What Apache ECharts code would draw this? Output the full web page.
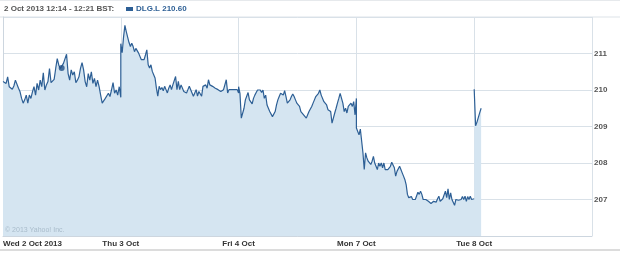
<!DOCTYPE html>
<html>
<head>
<meta charset="utf-8">
<script src="https://cdn.jsdelivr.net/npm/echarts@6/dist/echarts.min.js"></script>
<style>
html,body{margin:0;padding:0;background:#fff;}
#chart{width:620px;height:253px;}
</style>
</head>
<body>
<div id="chart"></div>
<script>
// ---- data ----
const dayLabels = ['Wed 2 Oct 2013', 'Thu 3 Oct', 'Fri 4 Oct', 'Mon 7 Oct', 'Tue 8 Oct'];
const sessionOpen = '08:00';
const sessionClose = '16:30';
const lastQuoteTimes = ['16:30', '16:30', '16:30', '16:30', '08:30'];
const yTicks = [207, 208, 209, 210, 211];

const wedPrices = [210.23,210.27,210.18,210.36,210.09,210.14,210.02,210.11,210.27,210.23,210.05,209.95,209.77,209.64,209.73,209.86,209.64,209.86,209.77,209.95,210.09,209.86,210.18,210.0,210.27,210.09,210.47,210.0,210.14,210.23,210.59,210.2,210.18,210.29,210.59,210.86,210.68,210.59,210.64,210.73,210.68,210.98,210.45,210.27,210.55,210.41,210.5,210.2,210.27,210.36,210.59,210.75,210.55,210.23,210.09,210.45,210.27,210.5,210.18,210.32,210.09,210.27,210.09,209.86,209.64,209.68,209.77,209.73,209.91,209.82,210.0,210.2,209.91,210.0,209.86,210.09,209.8];
const thuPrices = [211.27,211.02,211.45,211.77,211.6,211.45,211.3,211.19,211.28,211.19,211.05,211.14,211.19,211.01,210.96,210.83,210.78,210.83,210.96,211.1,210.69,210.6,210.69,210.51,210.42,210.33,210.05,209.83,210.1,210.01,210.07,209.98,210.1,210.01,209.92,210.05,210.14,210.01,210.14,210.19,210.37,210.01,210.24,210.01,210.14,210.1,209.96,210.01,209.92,210.01,210.1,210.05,209.92,209.83,209.92,210.01,209.83,209.96,209.92,209.83,210.1,210.05,210.14,210.05,210.28,210.14,210.19,210.1,210.14,210.05,210.1,210.01,210.05,209.96,209.92,210.01,209.96,210.28,209.92,210.01,209.96,210.01,209.96,210.01,209.96,210.01,209.92];
const friPrices = [210.09,209.91,209.23,209.2,209.5,209.73,209.77,209.93,209.73,209.77,209.62,209.77,209.86,209.93,210.0,209.95,210.0,209.93,210.0,209.77,209.86,209.59,209.55,209.41,209.37,209.27,209.23,209.41,209.59,209.73,209.82,209.91,209.95,209.86,209.98,209.82,209.64,209.59,209.73,209.82,209.89,209.82,209.73,209.64,209.68,209.55,209.41,209.37,209.32,209.27,209.23,209.32,209.41,209.46,209.55,209.64,209.73,209.82,209.77,209.91,210.0,209.86,209.91,209.68,209.68,209.59,209.46,209.46,209.41,209.09,209.05,209.37,209.5,209.64,209.77,209.91,209.95,209.64,209.41,209.5,209.37,209.55,209.5,209.64,209.55,209.68,209.32,209.77];
const monPrices = [208.96,208.91,208.77,208.93,208.96,208.28,207.82,208.28,208.14,208.05,208.0,207.96,208.05,208.18,208.0,207.96,207.82,208.0,207.91,208.0,207.87,208.0,207.82,207.82,207.82,207.8,207.91,208.02,208.0,207.87,207.64,207.77,207.82,207.91,207.82,207.73,207.64,207.55,207.41,207.14,207.05,207.0,207.08,207.0,206.98,207.0,207.02,207.2,207.14,207.23,207.14,207.0,206.95,207.0,206.95,206.95,206.91,206.89,206.84,206.95,207.0,206.93,207.02,207.09,206.95,207.0,207.02,207.0,207.23,207.05,207.29,207.0,207.18,207.0,207.0,206.84,207.0,207.0,206.98,207.02,207.0,207.08,207.0,207.09,206.95,207.08,207.0,207.09,207.0,206.95,207.02];
const tuePrices = [210.02,209.02,209.12,209.25,209.38,209.5];
const dailyPrices = [wedPrices, thuPrices, friPrices, monPrices, tuePrices];
const sessionBreakBefore = [false, false, false, false, true];

const ticker = 'DLG.L';
const hoverDay = 0;
const hoverTime = '12:14';
const hoverPrice = 210.60;
const headerText = '2 Oct 2013 12:14 - 12:21 BST:';
const copyright = '\u00a9 2013 Yahoo! Inc.';

// ---- build ----
function mins(t){const p=t.split(':');return (+p[0])*60+(+p[1]);}
const sessLen = mins(sessionClose) - mins(sessionOpen);
function toX(day, t){return day + (mins(t) - mins(sessionOpen)) / sessLen;}

const seriesData = [];
dailyPrices.forEach((arr, d) => {
  if (sessionBreakBefore[d]) seriesData.push([d, null]);
  const endFrac = toX(0, lastQuoteTimes[d]);
  arr.forEach((v, i) => {
    seriesData.push([d + endFrac * i / (arr.length - 1), v]);
  });
});

const lineColor = '#2d5f95';
const gridColor = '#d9e1e8';
const font = '"Liberation Sans", Arial, sans-serif';

const chart = echarts.init(document.getElementById('chart'), null, {renderer: 'canvas'});
chart.setOption({
  animation: false,
  backgroundColor: '#fff',
  title: {
    text: headerText, left: 4, top: 5, padding: 0,
    textStyle: {fontFamily: font, fontSize: 8, fontWeight: 'bold', color: '#555'}
  },
  legend: {
    left: 126, top: 5, padding: 0, itemWidth: 7, itemHeight: 4, itemGap: 4, icon: 'rect',
    data: [ticker],
    formatter: n => n + ' ' + hoverPrice.toFixed(2),
    textStyle: {fontFamily: font, fontSize: 8, fontWeight: 'bold', color: lineColor, padding: [0,0,0,-2]}
  },
  grid: {left: 2, right: 28, top: 17, bottom: 17, containLabel: false, show: false},
  xAxis: {
    type: 'value', min: 0, max: dayLabels.length, interval: 1,
    axisLine: {show: true, lineStyle: {color: '#cdd6df'}},
    axisTick: {show: false},
    splitLine: {show: true, lineStyle: {color: gridColor, width: 1}},
    axisLabel: {
      margin: 4, fontFamily: font, fontSize: 8, fontWeight: 'bold', color: '#333',
      alignMinLabel: 'left', showMaxLabel: false,
      formatter: v => dayLabels[Math.round(v)] || ''
    }
  },
  yAxis: {
    type: 'value', position: 'right', min: 206, max: 212, interval: 1,
    axisLine: {show: true, lineStyle: {color: '#cdd6df'}},
    axisTick: {show: false},
    splitLine: {show: true, lineStyle: {color: gridColor}},
    axisLabel: {
      margin: 2, fontFamily: font, fontSize: 8, fontWeight: 'bold', color: '#555',
      showMinLabel: false, showMaxLabel: false,
      formatter: v => yTicks.indexOf(v) >= 0 ? String(v) : ''
    }
  },
  graphic: [
    {type: 'line', shape: {x1: 0, y1: 17, x2: 620, y2: 17}, style: {stroke: '#dde3e8', lineWidth: 1}, silent: true},
    {type: 'line', shape: {x1: 0, y1: 0.5, x2: 620, y2: 0.5}, style: {stroke: '#e6e9ec', lineWidth: 1}, silent: true},
    {type: 'line', shape: {x1: 0, y1: 250, x2: 620, y2: 250}, style: {stroke: '#dcdcdc', lineWidth: 2}, silent: true},
    {type: 'text', left: 5, top: 227, z: 10, style: {text: copyright, font: '7px ' + font, fill: '#a9bccb'}, silent: true}
  ],
  series: [
    {
      name: ticker, type: 'line', data: seriesData, symbol: 'none', smooth: false,
      connectNulls: false,
      lineStyle: {color: lineColor, width: 1.2},
      itemStyle: {color: lineColor},
      areaStyle: {color: '#d5e5f1', opacity: 1},
      z: 2
    },
    {
      name: 'hover', type: 'scatter', data: [[toX(hoverDay, hoverTime), hoverPrice]],
      symbolSize: 6, itemStyle: {color: '#1f4f86'}, z: 5
    }
  ]
});
</script>
</body>
</html>
